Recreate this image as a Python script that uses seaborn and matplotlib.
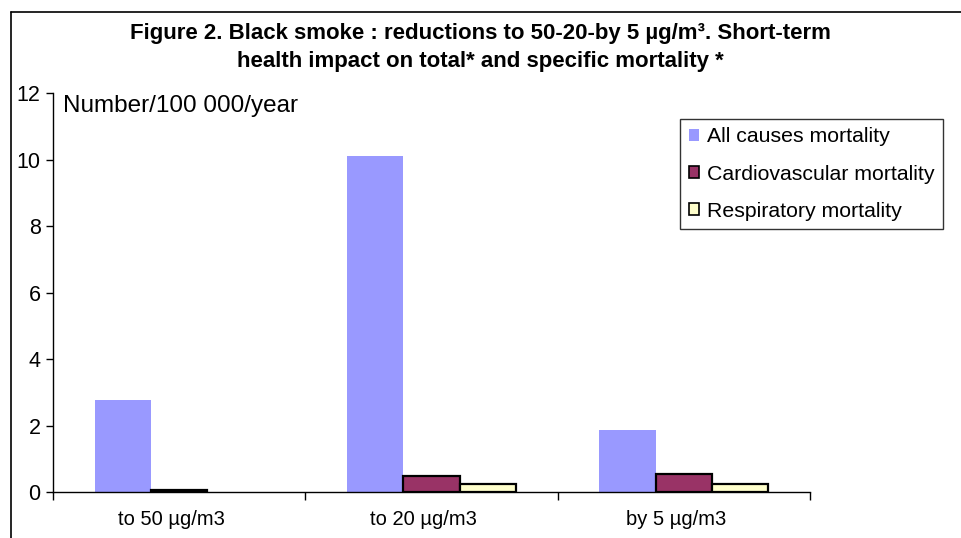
import matplotlib
matplotlib.use("Agg")
import matplotlib.pyplot as plt
import seaborn as sns
import pandas as pd
from matplotlib.lines import Line2D
from matplotlib.patches import Patch

# Data (deaths per 100 000 per year)
scenarios = ["to 50 µg/m3", "to 20 µg/m3", "by 5 µg/m3"]
series = ["All causes mortality", "Cardiovascular mortality", "Respiratory mortality"]
all_causes = [2.78, 10.1, 1.87]
cardiovascular = [0.05, 0.48, 0.55]
respiratory = [0.0, 0.24, 0.24]
yticks = [0, 2, 4, 6, 8, 10, 12]

colors = {"All causes mortality": "#9999FF",
          "Cardiovascular mortality": "#993366",
          "Respiratory mortality": "#FFFFCC"}

df = pd.DataFrame({
    "scenario": scenarios * 3,
    "series": [series[0]] * 3 + [series[1]] * 3 + [series[2]] * 3,
    "value": all_causes + cardiovascular + respiratory,
})

sns.set_style("white")
plt.rcParams["font.family"] = ["Liberation Sans", "DejaVu Sans"]
for key in ["text.color", "axes.labelcolor", "xtick.color", "ytick.color"]:
    plt.rcParams[key] = "black"

fig = plt.figure(figsize=(9.61, 5.38), dpi=100)
ax = fig.add_axes([53 / 961, 46 / 538, (810 - 53) / 961, (492 - 93) / 538])

sns.barplot(data=df, x="scenario", y="value", hue="series", order=scenarios,
            hue_order=series, palette=colors, width=0.67, gap=0,
            saturation=1, ax=ax, legend=False, errorbar=None)

for name, cont in zip(series, ax.containers):
    for bar in cont:
        if name == series[0] or bar.get_height() == 0:
            bar.set_edgecolor("none")
            bar.set_linewidth(0)
        else:
            bar.set_edgecolor("black")
            bar.set_linewidth(1.6)

ax.set_ylim(0, 12)
ax.set_xlim(-0.5, 2.5)
ax.set_yticks(yticks)
ax.set_yticklabels([str(t) for t in yticks], fontsize=15.5)
ax.set_xticks([-0.5, 0.5, 1.5, 2.5])
ax.set_xticklabels([])
ax.set_xticks([-0.03, 0.97, 1.97], minor=True)
ax.set_xticklabels(scenarios, minor=True, fontsize=14.5)
ax.tick_params(axis="x", which="minor", length=0, pad=13)
ax.tick_params(axis="x", which="major", direction="out", length=6, width=1, color="black", bottom=True)
ax.tick_params(axis="y", direction="out", length=5, width=1, color="black", left=True, pad=4)
ax.set_xlabel("")
ax.set_ylabel("")
for side in ["top", "right"]:
    ax.spines[side].set_visible(False)
for side in ["left", "bottom"]:
    ax.spines[side].set_color("black")
    ax.spines[side].set_linewidth(1)

ax.text(0.013, 0.995, "Number/100 000/year", transform=ax.transAxes,
        fontsize=17.5, va="top", ha="left")

handles = [Patch(facecolor=colors[s], edgecolor="none" if i == 0 else "black",
                 linewidth=1.2, label=s) for i, s in enumerate(series)]
leg = fig.legend(handles=handles, loc="upper left",
                 bbox_to_anchor=(680 / 961, 1 - 119 / 538),
                 fontsize=15.3, frameon=True, fancybox=False, edgecolor="black",
                 handlelength=0.5, handleheight=0.5, handletextpad=0.35,
                 labelspacing=0.85, borderpad=0.4, borderaxespad=0)
leg.get_frame().set_linewidth(1)

fig.text(480 / 961, 1 - 33 / 538,
         "Figure 2. Black smoke : reductions to 50-20-by 5 µg/m³. Short-term",
         ha="center", va="center", fontsize=16, fontweight="bold")
fig.text(480 / 961, 1 - 62 / 538,
         "health impact on total* and specific mortality *",
         ha="center", va="center", fontsize=16, fontweight="bold")

# outer frame of the figure panel
fig.add_artist(Line2D([10.5 / 961, 10.5 / 961], [0, 1 - 12 / 538], color="black", lw=1.2))
fig.add_artist(Line2D([10.5 / 961, 1], [1 - 12 / 538, 1 - 12 / 538], color="black", lw=1.2))

fig.savefig("out.png", dpi=100)
